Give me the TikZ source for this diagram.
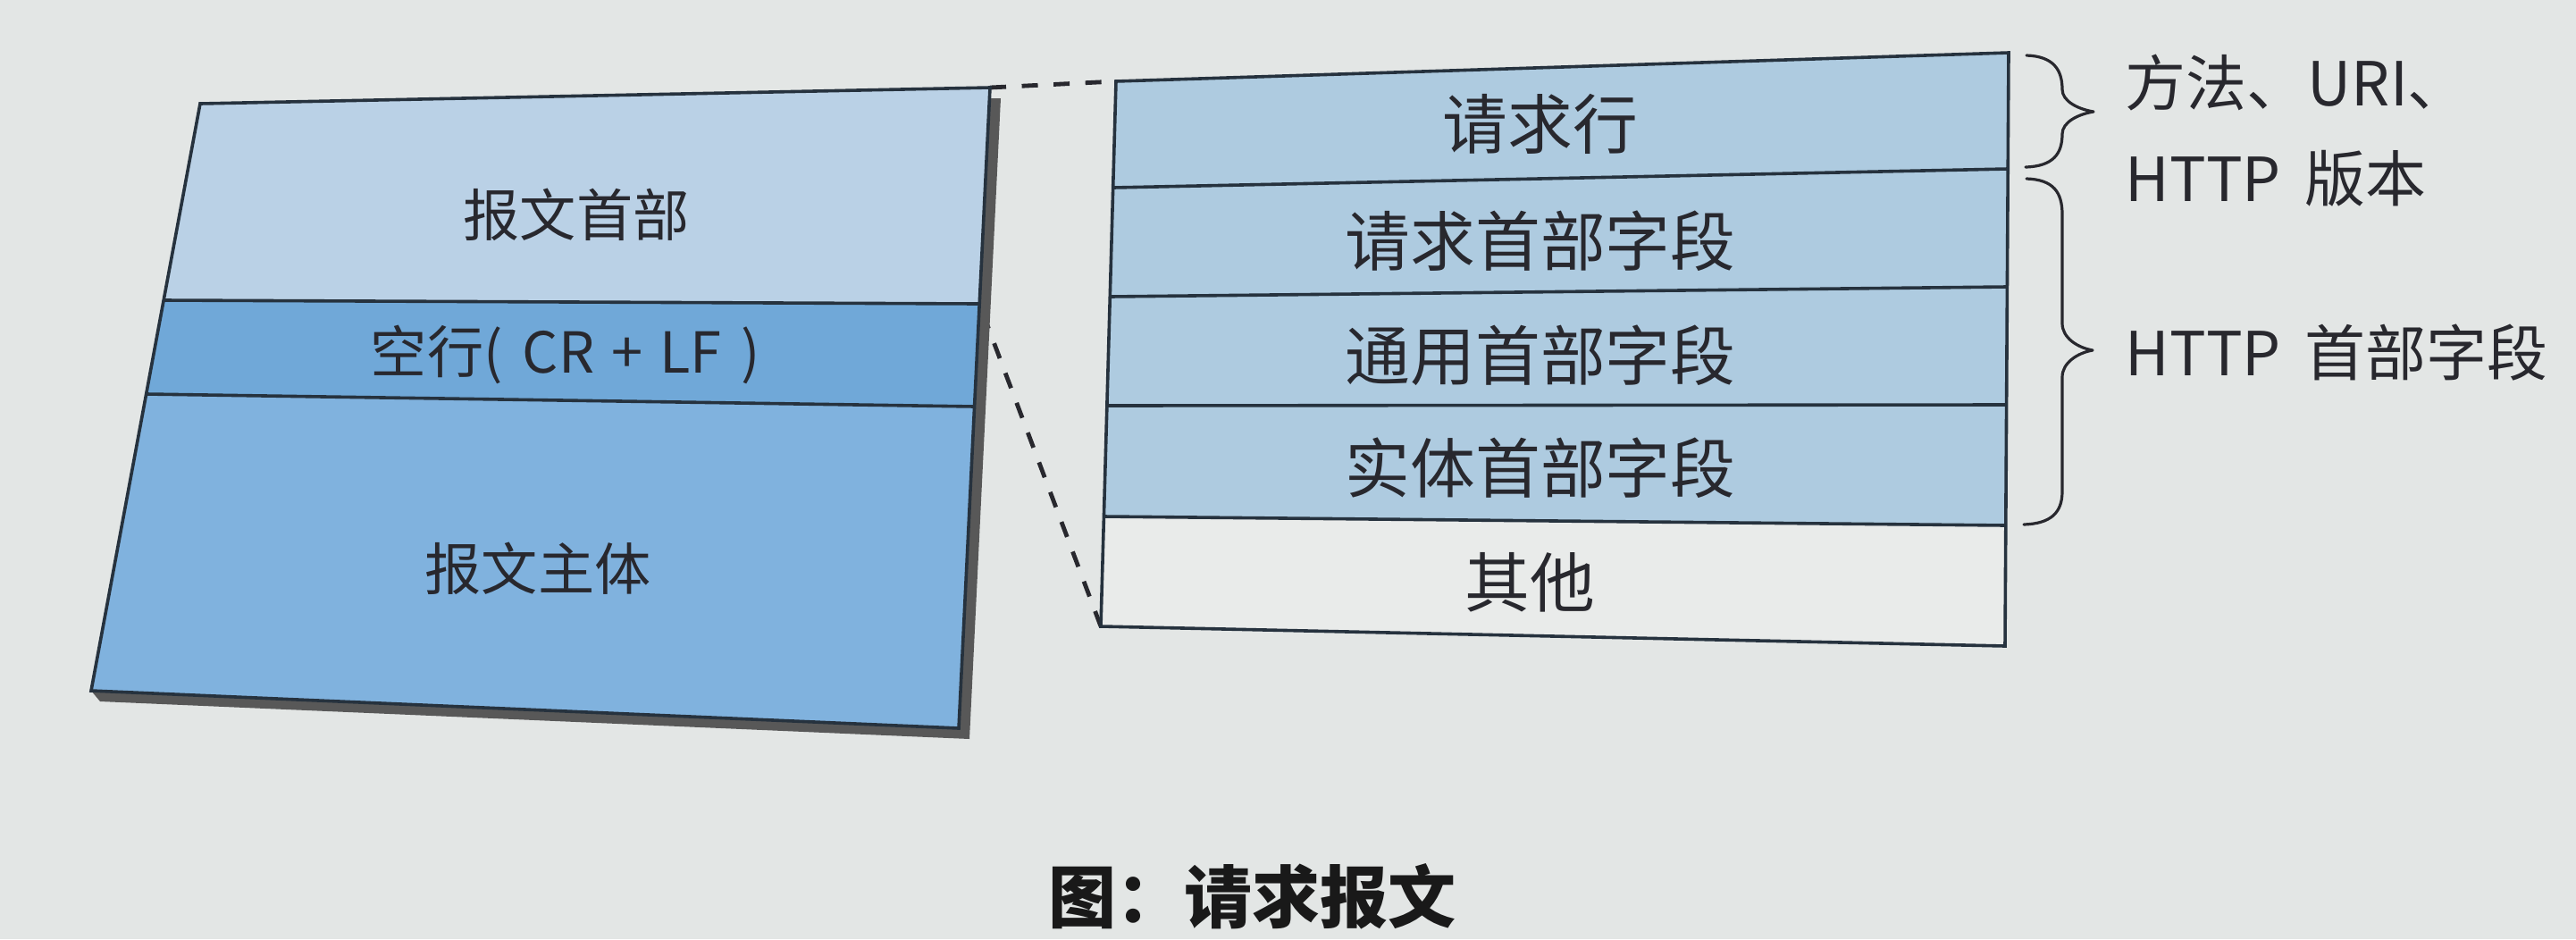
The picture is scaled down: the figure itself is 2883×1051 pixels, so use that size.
\documentclass[tikz,border=0pt]{standalone}
\usepackage{fontspec}
\setmainfont{Noto Sans CJK SC}
\usetikzlibrary{calc}
\definecolor{bg}{RGB}{227,230,229}
\definecolor{hdrc}{RGB}{186,209,230}
\definecolor{blankc}{RGB}{112,168,216}
\definecolor{bodyc}{RGB}{128,178,222}
\definecolor{rowc}{RGB}{174,203,224}
\definecolor{otherc}{RGB}{233,235,234}
\definecolor{shadowc}{RGB}{88,88,88}
\definecolor{linec}{RGB}{38,50,62}
\definecolor{txtc}{RGB}{40,40,46}
\tikzset{
  boxline/.style={draw=linec, line width=0.9pt, line join=miter},
  dashline/.style={draw=txtc, line width=1.2pt, dash pattern=on 4.5pt off 4.4pt},
  bracec/.style={draw=txtc, line width=0.8pt, line cap=round, line join=round},
  lefttext/.style={text=txtc, font=\fontsize{15.8}{19}\selectfont, inner sep=0pt},
  boxtext/.style={text=txtc, font=\fontsize{18.2}{22}\selectfont, inner sep=0pt},
  labeltext/.style={text=txtc, font=\fontsize{17}{26.75}\selectfont, inner sep=0pt, anchor=west, align=left},
  captext/.style={text=black!90, font=\fontsize{19}{23}\selectfont\bfseries, inner sep=0pt}
}
\begin{document}
\begin{tikzpicture}[x=0.25pt,y=-0.25pt]
\fill[bg] (0,0) rectangle (2883,1051);
\useasboundingbox (0,0) rectangle (2883,1051);

% left box corners
\coordinate (LTL) at (224,116);
\coordinate (LTR) at (1108,98);
\coordinate (LHL) at (183,336);
\coordinate (LHR) at (1096,340);
\coordinate (LKL) at (164,441);
\coordinate (LKR) at (1091,455);
\coordinate (LBL) at (102,773);
\coordinate (LBR) at (1073,815);

% right box corners
\coordinate (R0L) at (1249,91);   \coordinate (R0R) at (2248,59);
\coordinate (R1L) at (1246,210);  \coordinate (R1R) at (2247,189);
\coordinate (R2L) at (1242,332);  \coordinate (R2R) at (2246,321);
\coordinate (R3L) at (1239,454);  \coordinate (R3R) at (2246,453);
\coordinate (R4L) at (1235,578);  \coordinate (R4R) at (2245,588);
\coordinate (R5L) at (1232,701);  \coordinate (R5R) at (2244,723);

% dashed connectors
\draw[dashline] (LTR) -- (R0L);
\draw[dashline, dash phase=6pt] (LHR) -- (R5L);

% shadow of left box
\fill[shadowc] ($(LTR)+(0,12)$) -- ($(LTR)+(12,12)$) -- ($(LBR)+(12,12)$)
  -- ($(LBL)+(10,12)$) -- (LBL) -- (LBR) -- cycle;

% left box
\fill[hdrc] (LTL) -- (LTR) -- (LHR) -- (LHL) -- cycle;
\fill[blankc] (LHL) -- (LHR) -- (LKR) -- (LKL) -- cycle;
\fill[bodyc] (LKL) -- (LKR) -- (LBR) -- (LBL) -- cycle;
\draw[boxline] (LTL) -- (LTR) -- (LBR) -- (LBL) -- cycle;
\draw[boxline] (LHL) -- (LHR);
\draw[boxline] (LKL) -- (LKR);

\node[lefttext] (hdr) at (645,240) {报文首部};
\node[lefttext] (blank) at (633,397) {空行(\hspace{0.35em}CR\hspace{0.3em}+\hspace{0.3em}LF\hspace{0.35em})};
\node[lefttext] (body) at (602,636) {报文主体};

% right box
\fill[rowc] (R0L) -- (R0R) -- (R4R) -- (R4L) -- cycle;
\fill[otherc] (R4L) -- (R4R) -- (R5R) -- (R5L) -- cycle;
\draw[boxline] (R0L) -- (R0R) -- (R5R) -- (R5L) -- cycle;
\draw[boxline] (R1L) -- (R1R);
\draw[boxline] (R2L) -- (R2R);
\draw[boxline] (R3L) -- (R3R);
\draw[boxline] (R4L) -- (R4R);

\node[boxtext] (reqline) at (1724,139) {请求行};
\node[boxtext] (reqhdr) at (1724,270) {请求首部字段};
\node[boxtext] (genhdr) at (1724,398) {通用首部字段};
\node[boxtext] (enthdr) at (1724,524) {实体首部字段};
\node[boxtext] (other) at (1712,652) {其他};

% braces
\draw[bracec] (2268,62) .. controls (2298,63) and (2308,78) .. (2308,100)
  .. controls (2308,113) and (2325,122) .. (2343,125)
  .. controls (2325,128) and (2308,137) .. (2308,150)
  .. controls (2308,172) and (2298,186) .. (2267,187);
\draw[bracec] (2268,200) .. controls (2298,201) and (2308,215) .. (2308,240)
  -- (2308,362)
  .. controls (2308,378) and (2325,389) .. (2342,392)
  .. controls (2325,395) and (2308,406) .. (2308,422)
  -- (2308,550)
  .. controls (2308,574) and (2295,586) .. (2265,587);

\node[labeltext] (lab1) at (2378,146) {方法、URI、\\HTTP\hspace{0.4em}版本};
\node[labeltext] (lab2) at (2378,395) {HTTP\hspace{0.4em}首部字段};

\node[captext] (cap) at (1401,1003) {图：请求报文};
\end{tikzpicture}
\end{document}
